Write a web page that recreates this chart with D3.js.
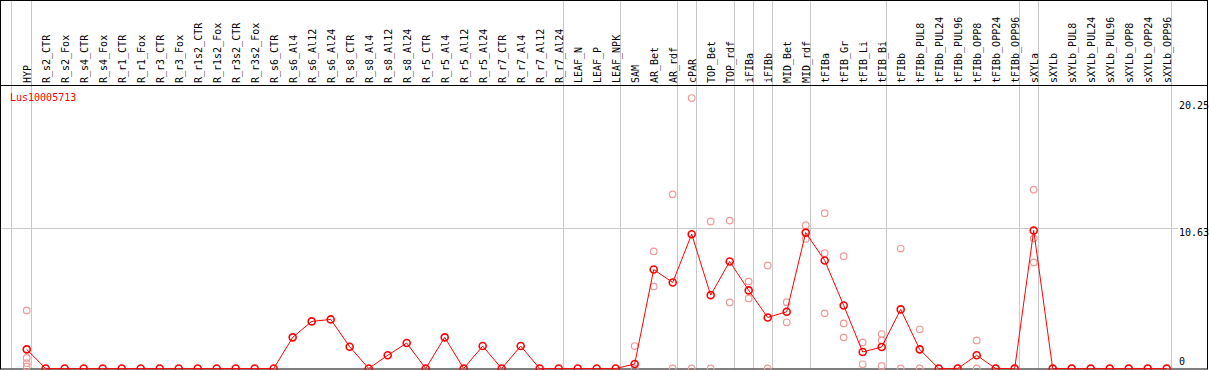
<!DOCTYPE html>
<html>
<head>
<meta charset="utf-8">
<script src="https://cdn.jsdelivr.net/npm/d3@7"></script>
<style>
html,body{margin:0;padding:0;background:#fff;}
svg{display:block;}
text{font-family:"DejaVu Sans Mono","Liberation Mono",monospace;font-size:10px;}
</style>
</head>
<body>
<svg id="chart" width="1209" height="370"></svg>
<script>
const categories = ["HYP","R_s2_CTR","R_s2_Fox","R_s4_CTR","R_s4_Fox","R_r1_CTR","R_r1_Fox","R_r3_CTR","R_r3_Fox","R_r1s2_CTR","R_r1s2_Fox","R_r3s2_CTR","R_r3s2_Fox","R_s6_CTR","R_s6_Al4","R_s6_Al12","R_s6_Al24","R_s8_CTR","R_s8_Al4","R_s8_Al12","R_s8_Al24","R_r5_CTR","R_r5_Al4","R_r5_Al12","R_r5_Al24","R_r7_CTR","R_r7_Al4","R_r7_Al12","R_r7_Al24","LEAF_N","LEAF_P","LEAF_NPK","SAM","AR_Bet","AR_rdf","cPAR","TOP_Bet","TOP_rdf","iFIBa","iFIBb","MID_Bet","MID_rdf","tFIBa","tFIB_Gr","tFIB_Li","tFIB_Bi","tFIBb","tFIBb_PUL8","tFIBb_PUL24","tFIBb_PUL96","tFIBb_OPP8","tFIBb_OPP24","tFIBb_OPP96","sXYLa","sXYLb","sXYLb_PUL8","sXYLb_PUL24","sXYLb_PUL96","sXYLb_OPP8","sXYLb_OPP24","sXYLb_OPP96"];

const meanValues = [1.45,0,0,0,0,0,0,0,0,0,0,0,0,0,2.36,3.57,3.72,1.65,0,1.0,1.93,0,2.36,0,1.70,0,1.70,0,0,0,0,0,0.34,7.5,6.52,10.18,5.56,8.11,5.92,3.87,4.30,10.30,8.19,4.78,1.25,1.63,4.48,1.45,0,0,1.0,0,0,10.46,0,0,0,0,0,0,0];

const replicateValues = [
  [4.4,0.8,0.4,0.15],[],[],[],[],[],[],[],[],[],[],[],[],[],[],[],[],[],[],[],[],[],[],[],[],[],[],[],[],[],[],[],
  [1.70,0],[8.87,6.22],[13.2,0],[20.5,0],[11.14,0],[11.21,5.01],[6.6,5.31],[7.81,0],[5.03,3.5],[10.86,9.82],
  [11.77,8.74,4.18],[8.51,3.42,2.36],[1.98,0.32],[2.61,2.13,0.19],[9.09,0],[2.97,0],[0],[0],[2.13,0],[0],[0],
  [13.56,9.87,8.04],[0],[0],[0],[0],[0],[0],[0]
];

const groupEnds = ["HYP","R_r7_Al24","LEAF_NPK","AR_rdf","cPAR","TOP_rdf","iFIBa","iFIBb","MID_rdf","tFIB_Bi","tFIBb_OPP96","sXYLa","sXYLb_OPP96"];
const yTicks = [20.25, 10.63, 0];
const title = "Lus10005713";

const svg = d3.select("#chart");
const W = 1209, H = 370;
const headerY = 85.5, bottomY = 368.5;

const x = d3.scalePoint().domain(categories).range([26.7, 26.7 + 19*(categories.length-1)]);
const step = x.step();
const y = d3.scaleLinear().domain([0, 21.45]).range([bottomY, headerY]);

// vertical group separators
const sepX = [x("HYP") - step + 3.5].concat(groupEnds.map(c => x(c) + 3.8));
svg.append("g").selectAll("line").data(sepX).join("line")
  .attr("x1", d => Math.round(d) + 0.5).attr("x2", d => Math.round(d) + 0.5)
  .attr("y1", 0).attr("y2", bottomY)
  .attr("stroke", "#c8c8c8").attr("stroke-width", 1);

// horizontal gridline at mid tick
svg.append("line")
  .attr("x1", 1).attr("x2", 1178)
  .attr("y1", Math.round(y(10.63)) + 0.5).attr("y2", Math.round(y(10.63)) + 0.5)
  .attr("stroke", "#c8c8c8").attr("stroke-width", 1);

// frame
svg.append("rect").attr("x", 0.5).attr("y", 0.5).attr("width", W - 2).attr("height", bottomY)
  .attr("fill", "none").attr("stroke", "#000").attr("stroke-width", 1);
svg.append("line").attr("x1", 0).attr("x2", W - 1).attr("y1", headerY).attr("y2", headerY)
  .attr("stroke", "#000").attr("stroke-width", 1);

// category labels
svg.append("g").selectAll("text").data(categories).join("text")
  .attr("transform", d => `translate(${x(d) + 4},83) rotate(-90)`)
  .attr("text-anchor", "start").attr("fill", "#000")
  .text(d => d);

// title
svg.append("text").attr("x", 10).attr("y", 100.5).attr("fill", "#ff0000").text(title);

// y tick labels
svg.append("g").selectAll("text").data(yTicks).join("text")
  .attr("x", 1179)
  .attr("y", d => d === 0 ? y(0) - 3.5 : y(d) + 8)
  .attr("fill", "#000")
  .text(d => d === 0 ? "0" : d.toFixed(2));

// replicate points
const reps = [];
replicateValues.forEach((arr, i) => arr.forEach(v => reps.push({c: categories[i], v})));
svg.append("g").selectAll("circle").data(reps).join("circle")
  .attr("cx", d => x(d.c)).attr("cy", d => y(d.v)).attr("r", 3.3)
  .attr("fill", "none").attr("stroke", "#f09a9a").attr("stroke-width", 1.2);

// mean line
const line = d3.line().x((d, i) => x(categories[i])).y(d => y(d));
svg.append("path").datum(meanValues).attr("d", line)
  .attr("fill", "none").attr("stroke", "#ff0000").attr("stroke-width", 1);

// mean points
svg.append("g").selectAll("circle").data(meanValues).join("circle")
  .attr("cx", (d, i) => x(categories[i])).attr("cy", d => y(d)).attr("r", 3.5)
  .attr("fill", "none").attr("stroke", "#ff0000").attr("stroke-width", 1.6);
</script>
</body>
</html>
